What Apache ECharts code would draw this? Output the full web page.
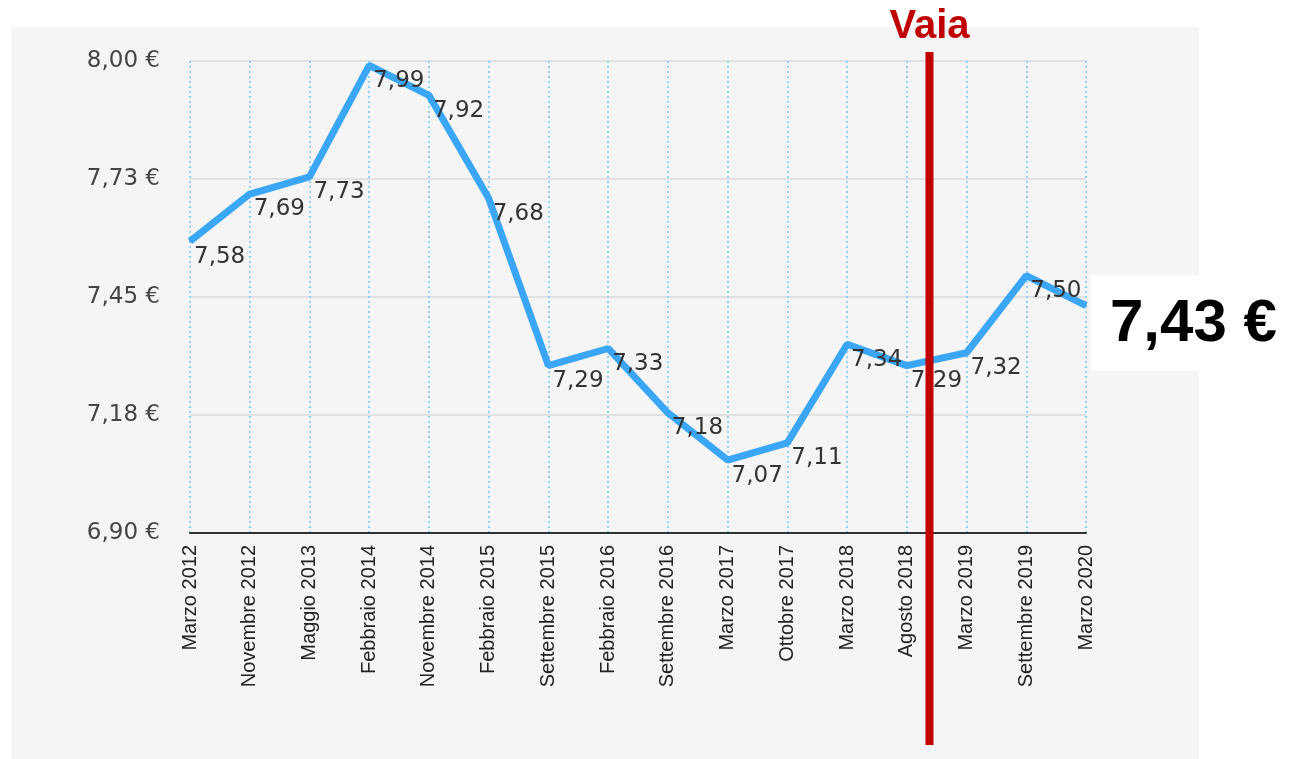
<!DOCTYPE html>
<html>
<head>
<meta charset="utf-8">
<script src="https://cdn.jsdelivr.net/npm/echarts@6/dist/echarts.min.js"></script>
<style>
  html, body { margin: 0; padding: 0; background: #fff; }
  #chart { width: 1303px; height: 759px; }
</style>
</head>
<body>
<div id="chart"></div>
<script>
const categories = [
  "Marzo 2012", "Novembre 2012", "Maggio 2013", "Febbraio 2014",
  "Novembre 2014", "Febbraio 2015", "Settembre 2015", "Febbraio 2016",
  "Settembre 2016", "Marzo 2017", "Ottobre 2017", "Marzo 2018",
  "Agosto 2018", "Marzo 2019", "Settembre 2019", "Marzo 2020"
];
const prices = [7.58, 7.69, 7.73, 7.99, 7.92, 7.68, 7.29, 7.33, 7.18, 7.07, 7.11, 7.34, 7.29, 7.32, 7.50, 7.43];
const yTickLabels = ["6,90 €", "7,18 €", "7,45 €", "7,73 €", "8,00 €"];
const vaiaPos = 12.38; // Vaia storm, between Agosto 2018 and Marzo 2019
const vaiaLabel = "Vaia";
const currentPrice = "7,43 €";

const chart = echarts.init(document.getElementById("chart"));

const option = {
  backgroundColor: "#ffffff",
  animation: false,
  grid: { left: 190, right: 217, top: 61, bottom: 226 },
  xAxis: {
    type: "category",
    data: categories,
    boundaryGap: false,
    axisLine: { lineStyle: { color: "#333", width: 2 } },
    axisTick: { show: false },
    axisLabel: {
      rotate: 90,
      margin: 12,
      color: "#222",
      fontFamily: "Liberation Sans",
      fontSize: 20
    },
    splitLine: {
      show: true,
      lineStyle: { color: "#8fd3f7", width: 2, type: [2, 3] }
    }
  },
  yAxis: {
    type: "value",
    min: 6.9,
    max: 8.0,
    interval: 0.275,
    axisLine: { show: false },
    axisTick: { show: false },
    axisLabel: {
      margin: 30,
      color: "#444",
      fontFamily: "DejaVu Sans",
      fontSize: 23,
      formatter: (v, i) => yTickLabels[i]
    },
    splitLine: { lineStyle: { color: "#d8d8d8", width: 1.5 } }
  },
  series: [{
    type: "line",
    data: prices,
    symbol: "circle",
    symbolSize: 2,
    showSymbol: true,
    itemStyle: { color: "#3aa6f5" },
    lineStyle: { color: "#3aa6f5", width: 7 },
    label: {
      show: true,
      position: [5, 5],
      align: "left",
      verticalAlign: "top",
      color: "#333",
      fontFamily: "DejaVu Sans",
      fontSize: 23,
      formatter: p => p.value.toFixed(2).replace(".", ",")
    },
    labelLayout: { hideOverlap: false },
    z: 3
  }]
};
chart.setOption(option);

// annotations placed through the axis scales
const x12 = chart.convertToPixel({ xAxisIndex: 0 }, 12);
const x13 = chart.convertToPixel({ xAxisIndex: 0 }, 13);
const vaiaX = x12 + (x13 - x12) * (vaiaPos - 12);
const lastX = chart.convertToPixel({ xAxisIndex: 0 }, categories.length - 1);
const lastY = chart.convertToPixel({ yAxisIndex: 0 }, prices[prices.length - 1]);

chart.setOption({
  graphic: [
    {
      type: "rect", z: -10, silent: true,
      shape: { x: 11, y: 27, width: 1188, height: 740 },
      style: { fill: "#f5f5f5" }
    },
    {
      type: "line", z: 100,
      shape: { x1: vaiaX, y1: 52, x2: vaiaX, y2: 745 },
      style: { stroke: "#c00000", lineWidth: 8 }
    },
    {
      type: "text", z: 100,
      x: vaiaX, y: 27,
      style: {
        text: vaiaLabel, fill: "#c00000",
        font: "bold 40px 'Liberation Sans', Arial",
        align: "center", verticalAlign: "middle"
      }
    },
    {
      type: "rect", z: 90,
      shape: { x: lastX + 5, y: lastY - 30, width: 220, height: 95 },
      style: { fill: "#ffffff" }
    },
    {
      type: "text", z: 100,
      x: lastX + 24, y: lastY + 19,
      style: {
        text: currentPrice, fill: "#000",
        font: "bold 60px 'Liberation Sans', Arial",
        align: "left", verticalAlign: "middle"
      }
    }
  ]
});
</script>
</body>
</html>
